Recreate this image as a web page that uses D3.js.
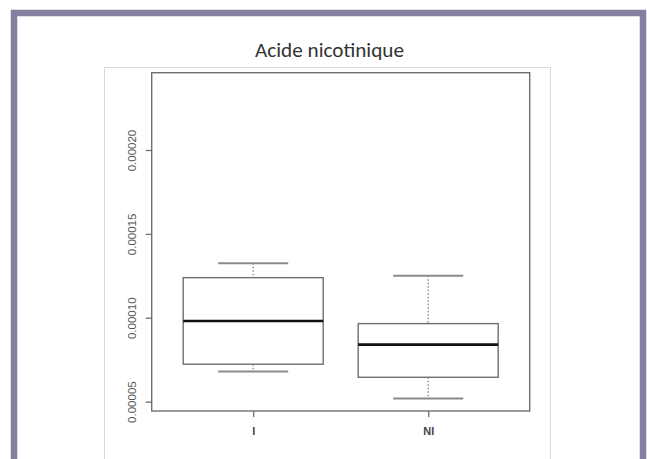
<!DOCTYPE html>
<html>
<head>
<meta charset="utf-8">
<script src="https://cdn.jsdelivr.net/npm/d3@7"></script>
<style>
  html, body { margin: 0; padding: 0; background: #ffffff; }
  svg { display: block; }
</style>
</head>
<body>
<script>
// ---- Data ----
const title = "Acide nicotinique";
const categories = ["I", "NI"];
const whiskerLow  = [0.0000679, 0.0000518];
const q1          = [0.0000723, 0.0000645];
const median      = [0.0000981, 0.0000840];
const q3          = [0.0001239, 0.0000965];
const whiskerHigh = [0.0001325, 0.0001251];
const yTicks      = [0.00005, 0.00010, 0.00015, 0.00020];
const yTickLabels = ["0.00005", "0.00010", "0.00015", "0.00020"];

(function () {
const W = 647, H = 459;
const svg = d3.select("body").append("svg").attr("width", W).attr("height", H);

// slide frame
svg.append("rect").attr("x", 14).attr("y", 13).attr("width", 629).attr("height", 460)
  .attr("fill", "none").attr("stroke", "#83809f").attr("stroke-width", 6.5);

// picture border
svg.append("rect").attr("x", 104.5).attr("y", 67.5).attr("width", 446).attr("height", 400)
  .attr("fill", "#ffffff").attr("stroke", "#d9d9d9").attr("stroke-width", 1);

// title
svg.append("text").attr("x", 329.5).attr("y", 56.5)
  .attr("text-anchor", "middle")
  .attr("font-family", "Carlito, 'Liberation Sans Narrow', 'Open Sans', sans-serif")
  .attr("font-size", 20).attr("fill", "#333333")
  .attr("textLength", 149).attr("lengthAdjust", "spacingAndGlyphs")
  .text(title);

// plot region
const pLeft = 151.7, pRight = 529.7, pTop = 72.7, pBottom = 411;
const x = d3.scaleLinear().domain([0.42, 2.58]).range([pLeft, pRight]);
const y = d3.scaleLinear().domain([0.0000444, 0.0002461]).range([pBottom, pTop]);

const g = svg.append("g");
const stroke = "#6f6f6f";

categories.forEach((c, i) => {
  const cx = x(i + 1);
  const hw = x(i + 1.4) - cx;
  const cw = x(i + 1.2) - cx;
  g.append("line").attr("x1", cx).attr("x2", cx).attr("y1", y(whiskerHigh[i])).attr("y2", y(q3[i]))
    .attr("stroke", "#777").attr("stroke-width", 1.2).attr("stroke-dasharray", "1.5,2");
  g.append("line").attr("x1", cx).attr("x2", cx).attr("y1", y(q1[i])).attr("y2", y(whiskerLow[i]))
    .attr("stroke", "#777").attr("stroke-width", 1.2).attr("stroke-dasharray", "1.5,2");
  [whiskerHigh[i], whiskerLow[i]].forEach(v => {
    g.append("line").attr("x1", cx - cw).attr("x2", cx + cw).attr("y1", y(v)).attr("y2", y(v))
      .attr("stroke", "#8a8a8a").attr("stroke-width", 2);
  });
  g.append("rect").attr("x", cx - hw).attr("y", y(q3[i]))
    .attr("width", 2 * hw).attr("height", y(q1[i]) - y(q3[i]))
    .attr("fill", "#ffffff").attr("stroke", stroke).attr("stroke-width", 1.4);
  g.append("line").attr("x1", cx - hw).attr("x2", cx + hw).attr("y1", y(median[i])).attr("y2", y(median[i]))
    .attr("stroke", "#111").attr("stroke-width", 2.6);
});

svg.append("rect").attr("x", pLeft).attr("y", pTop).attr("width", pRight - pLeft).attr("height", pBottom - pTop)
  .attr("fill", "none").attr("stroke", stroke).attr("stroke-width", 1.4);

const yAxis = d3.axisLeft(y).tickValues(yTicks).tickSize(6)
  .tickFormat((d, i) => yTickLabels[i]);
const ya = svg.append("g").attr("transform", `translate(${pLeft},0)`).call(yAxis);
ya.select(".domain").remove();
ya.selectAll(".tick line").attr("stroke", stroke).attr("stroke-width", 1.3);
ya.selectAll(".tick text")
  .attr("x", null).attr("dy", null)
  .attr("transform", "translate(-15.5,0) rotate(-90)")
  .attr("text-anchor", "middle")
  .attr("font-family", "'Liberation Sans', Arial, sans-serif")
  .attr("font-size", 11.5).attr("fill", "#555");

const xAxis = d3.axisBottom(x).tickValues([1, 2]).tickSize(6)
  .tickFormat(d => categories[d - 1]);
const xa = svg.append("g").attr("transform", `translate(0,${pBottom})`).call(xAxis);
xa.select(".domain").remove();
xa.selectAll(".tick line").attr("stroke", stroke).attr("stroke-width", 1.3);
xa.selectAll(".tick text")
  .attr("y", 24).attr("dy", null)
  .attr("font-family", "'Liberation Sans', Arial, sans-serif")
  .attr("font-size", 11).attr("font-weight", "bold").attr("fill", "#444");
})();
</script>
</body>
</html>
